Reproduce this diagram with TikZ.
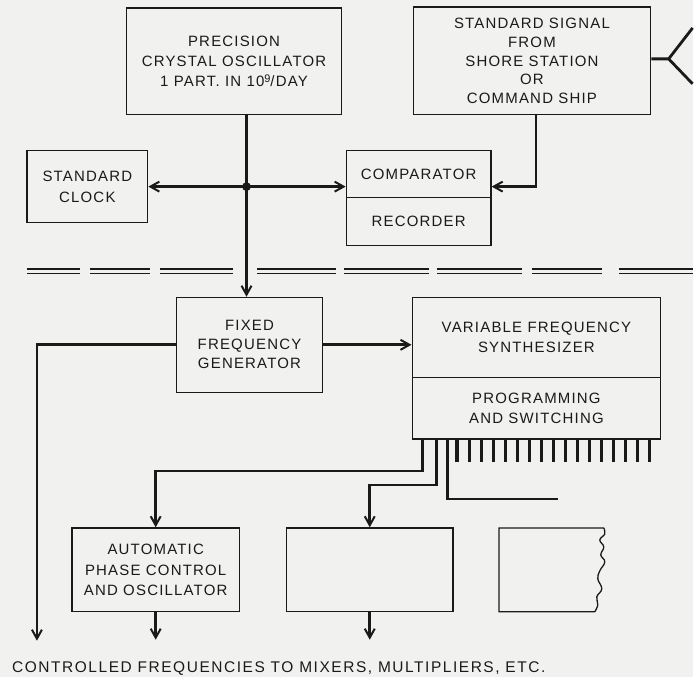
\documentclass[tikz,border=0pt]{standalone}
\usepackage{fontspec}
\setmainfont{Liberation Sans}[LetterSpace=8]
\newfontfamily\capfont{Liberation Sans}[LetterSpace=10]
\usetikzlibrary{arrows.meta,calc}
\definecolor{bg}{HTML}{F1F1EF}
\definecolor{ink}{HTML}{1A1A1A}
\newcommand{\supnine}{\raisebox{0.55ex}{\fontsize{11}{11}\selectfont 9}}
\begin{document}
\begin{tikzpicture}[x=1pt,y=-1pt,
  box/.style={draw=ink,line width=1.3pt,inner sep=0pt,align=center,text=ink,
    font=\fontsize{15}{20.5}\selectfont},
  wire/.style={draw=ink,line width=2.8pt},
  arr/.style={wire,-{Straight Barb[length=9pt,width=10pt,line width=2pt]}},
  pin/.style={draw=ink,line width=3.2pt},
  rail/.style={draw=ink,line width=1.3pt},
  lbl/.style={text=ink,inner sep=0pt,font=\capfont\fontsize{15.5}{18}\selectfont}]
\path[fill=bg] (0,0) rectangle (694,678);
% boxes
\node[box,minimum width=215pt,minimum height=107pt] (prec) at (234.5,61.5)
  {PRECISION\\CRYSTAL OSCILLATOR\\1 PART. IN 10\supnine/DAY};
\node[box,minimum width=238pt,minimum height=108pt,font=\fontsize{15}{18.8}\selectfont] (sig) at (533,61)
  {STANDARD SIGNAL\\FROM\\SHORE STATION\\OR\\COMMAND SHIP};
\node[box,minimum width=121pt,minimum height=72pt] (clock) at (87.5,187)
  {STANDARD\\CLOCK};
\node[box,minimum width=145pt,minimum height=47pt] (compU) at (419.5,174.5) {COMPARATOR};
\node[box,minimum width=145pt,minimum height=48pt] (compL) at (419.5,222) {RECORDER};
\node[box,minimum width=146pt,minimum height=95pt,font=\fontsize{15}{19}\selectfont] (ffg) at (250,345.5)
  {FIXED\\FREQUENCY\\GENERATOR};
\node[box,minimum width=249pt,minimum height=80pt] (vfsU) at (537.5,338)
  {VARIABLE FREQUENCY\\SYNTHESIZER};
\node[box,minimum width=249pt,minimum height=62pt] (vfsL) at (537.5,409)
  {PROGRAMMING\\AND SWITCHING};
\node[box,minimum width=168pt,minimum height=84pt] (apc) at (156,571)
  {AUTOMATIC\\PHASE CONTROL\\AND OSCILLATOR};
\node[box,minimum width=167pt,minimum height=84pt] (b2) at (370.5,571) {};
% third box with torn right edge
\draw[rail] (605,529) -- (500,529) -- (500,613) -- (596,613)
  plot[smooth,tension=0.7] coordinates {(596,613)(599,606)(598,598)(603,590)(599,580)(601,572)(606,563)(602,556)(605,548)(601,541)(606,535)(605,529)};
% junction
\coordinate (j) at (247,187);
\draw[wire] (prec.south -| j) -- (j);
\draw[arr] (j) -- (clock.east);
\draw[arr] (j) -- (j -| compU.west);
\draw[arr] (j) -- (ffg.north -| j);
\fill[ink] (j) circle (4.4pt);
% standard signal to comparator
\coordinate (s1) at ($(sig.south)+(4,0)$);
\draw[arr] (s1) |- (j -| compU.east);
% antenna
\coordinate (ant) at (670,59);
\coordinate (antU) at (694,28);
\coordinate (antL) at (694,84);
\draw[wire] (sig.east |- ant) -- (ant) -- (antU);
\draw[wire] (ant) -- (antL);
% double dashed separator
\foreach \a/\b in {27/80,90/150,160/233,258/337,345/430,438/523,533/603,620/694}{
  \draw[rail] (\a,269.5) -- (\b,269.5);
  \draw[rail] (\a,274) -- (\b,274);
}
% fixed generator outputs
\coordinate (o1) at (37,642);
\draw[arr] (ffg.west) -| (o1);
\draw[arr] (ffg.east) -- (ffg.east -| vfsU.west);
% pins
\coordinate (p1) at (423,440);
\coordinate (p2) at (437,440);
\coordinate (p3) at (448,440);
\coordinate (p3e) at (559,500);
\foreach \k in {0,...,16}{
  \draw[pin] ({458+12.06*\k},440) -- ({458+12.06*\k},463);
}
\draw[arr] (p1) -- (423,472) -| (apc.north);
\draw[arr] (p2) -- (437,486) -| (b2.north);
\draw[wire] (p3) |- (p3e);
% outputs
\coordinate (o2) at (156,641);
\coordinate (o3) at (370.5,641);
\draw[arr] (apc.south) -- (o2);
\draw[arr] (b2.south) -- (o3);
\node[lbl,anchor=west] (cap) at (12,670)
  {CONTROLLED FREQUENCIES TO MIXERS, MULTIPLIERS, ETC.};
\end{tikzpicture}
\end{document}
